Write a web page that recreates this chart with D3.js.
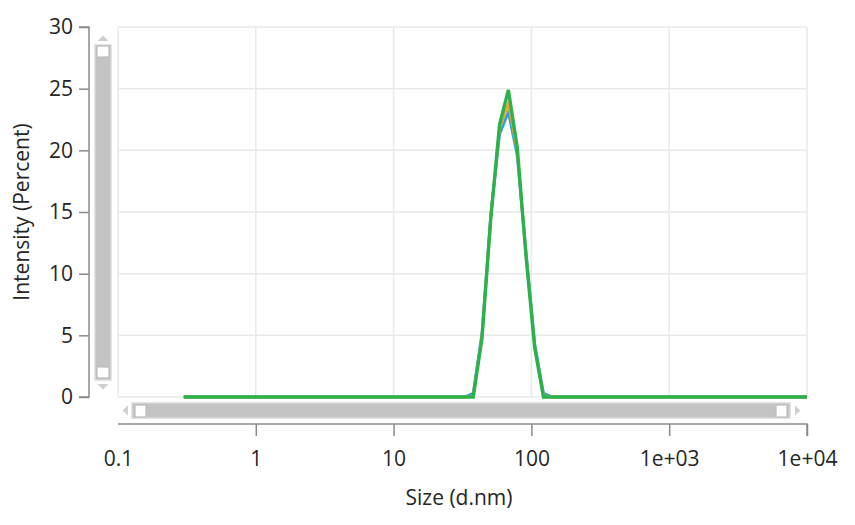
<!DOCTYPE html>
<html><head><meta charset="utf-8">
<script src="https://cdn.jsdelivr.net/npm/d3@7"></script>
<style>
html,body{margin:0;padding:0;background:#fff;}
svg{display:block;font-family:"Open Sans","Noto Sans",sans-serif;}
</style></head>
<body><svg id="c" width="855" height="525"></svg>
<script>
// Size classes (d.nm)
const sizes  = [0.3, 32.67, 37.84, 43.82, 50.75, 58.77, 68.06, 78.82, 91.28, 105.7, 122.4, 141.8, 10000];
// Intensity (%) per record
const blueSeries   = [0, 0, 0.3, 5.2, 14.8, 21.3, 23.1, 19.6, 11.8, 4.3, 0.3, 0, 0];
const orangeSeries = [0, 0, 0.1, 5.0, 14.6, 21.8, 23.8, 20.0, 11.6, 4.1, 0.1, 0, 0];
const greenSeries  = [0, 0, 0.0, 4.8, 14.5, 22.1, 24.9, 20.3, 11.5, 4.0, 0.0, 0, 0];
const xTicks = [0.1, 1, 10, 100, 1000, 10000];
const xTickLabels = ["0.1", "1", "10", "100", "1e+03", "1e+04"];
const yTicks = [0, 5, 10, 15, 20, 25, 30];

const series = [
  {name: "Record 1", values: blueSeries,   color: "#2a9fe3", w: 2.8},
  {name: "Record 2", values: orangeSeries, color: "#eea235", w: 2.8},
  {name: "Record 3", values: greenSeries,  color: "#2bb24c", w: 3.4}
];

const svg = d3.select("#c");
const L = 118, R = 807, T = 27, B = 397;
const x = d3.scaleLog().domain([0.1, 10000]).range([L, R]);
const y = d3.scaleLinear().domain([0, 30]).range([B, T]);
const textCol = "#262626", axisCol = "#8a8a8a", gridCol = "#e9e9e9";
const fs = "21px";
const ff = "'Open Sans','Noto Sans',sans-serif";

// grid
const g = svg.append("g");
g.selectAll(".gy").data(yTicks).enter().append("line")
  .attr("x1", L).attr("x2", R).attr("y1", d => y(d)).attr("y2", d => y(d))
  .attr("stroke", gridCol).attr("stroke-width", 1.5);
g.selectAll(".gx").data(xTicks).enter().append("line")
  .attr("y1", T).attr("y2", B).attr("x1", d => x(d)).attr("x2", d => x(d))
  .attr("stroke", gridCol).attr("stroke-width", 1.5);

// lines
const line = d3.line().x((d, i) => x(sizes[i])).y(d => y(d));
series.forEach(s => {
  svg.append("path").datum(s.values).attr("d", line)
    .attr("fill", "none").attr("stroke", s.color).attr("stroke-width", s.w)
    .attr("stroke-linejoin", "miter");
});

// y axis
const yAxisX = 89;
const yAx = svg.append("g").attr("transform", `translate(${yAxisX},0)`)
  .call(d3.axisLeft(y).tickValues(yTicks).tickSize(10).tickPadding(6).tickFormat(d3.format("d")));
yAx.select(".domain").attr("stroke", axisCol).attr("stroke-width", 1.5).attr("d", `M-10,${y(30)}H0V${y(0)}H-10`);
yAx.selectAll(".tick line").attr("stroke", axisCol).attr("stroke-width", 1.5);
yAx.selectAll(".tick text").attr("fill", textCol).style("font-size", fs).style("font-family", ff);

// x axis
const xAxisY = 424;
const xAx = svg.append("g").attr("transform", `translate(0,${xAxisY})`)
  .call(d3.axisBottom(x).tickValues(xTicks).tickSize(12).tickPadding(15)
    .tickFormat((d, i) => xTickLabels[i]));
xAx.select(".domain").attr("stroke", axisCol).attr("stroke-width", 1.5).attr("d", `M${L},0H${R}V12`);
xAx.selectAll(".tick line").attr("stroke", axisCol).attr("stroke-width", 1.5)
  .attr("opacity", (d, i) => i === 0 ? 0 : 1);
xAx.selectAll(".tick text").attr("fill", textCol).style("font-size", fs).style("font-family", ff);

// titles
svg.append("text").attr("x", 459).attr("y", 505).attr("text-anchor", "middle")
  .attr("fill", textCol).style("font-size", fs).style("font-family", ff).text("Size (d.nm)");
svg.append("text").attr("transform", `translate(29,212) rotate(-90)`)
  .attr("text-anchor", "middle").attr("fill", textCol).style("font-size", fs).style("font-family", ff).text("Intensity (Percent)");

// vertical scrollbar
const vs = svg.append("g");
vs.append("rect").attr("x", 95).attr("y", 45).attr("width", 16).attr("height", 335)
  .attr("fill", "#c3c3c3").attr("stroke", "#dadada").attr("stroke-width", 1.5);
[46, 367].forEach(yy => vs.append("rect").attr("x", 97).attr("y", yy).attr("width", 12).attr("height", 11)
  .attr("fill", "#fff").attr("stroke", "#bdbdbd").attr("stroke-width", 1.2));
vs.append("path").attr("d", "M97.5,41 L103,35.5 L108.5,41 Z").attr("fill", "#cfcfcf");
vs.append("path").attr("d", "M97.5,384 L103,389.5 L108.5,384 Z").attr("fill", "#cfcfcf");

// horizontal scrollbar
const hs = svg.append("g");
hs.append("rect").attr("x", 132).attr("y", 403).attr("width", 658).attr("height", 15)
  .attr("fill", "#c3c3c3").attr("stroke", "#dadada").attr("stroke-width", 1.5);
[135, 776].forEach(xx => hs.append("rect").attr("x", xx).attr("y", 405).attr("width", 11).attr("height", 12)
  .attr("fill", "#fff").attr("stroke", "#bdbdbd").attr("stroke-width", 1.2));
hs.append("path").attr("d", "M128,405.5 L122.5,410.5 L128,415.5 Z").attr("fill", "#cfcfcf");
hs.append("path").attr("d", "M795,405.5 L800.5,410.5 L795,415.5 Z").attr("fill", "#cfcfcf");
</script></body></html>
